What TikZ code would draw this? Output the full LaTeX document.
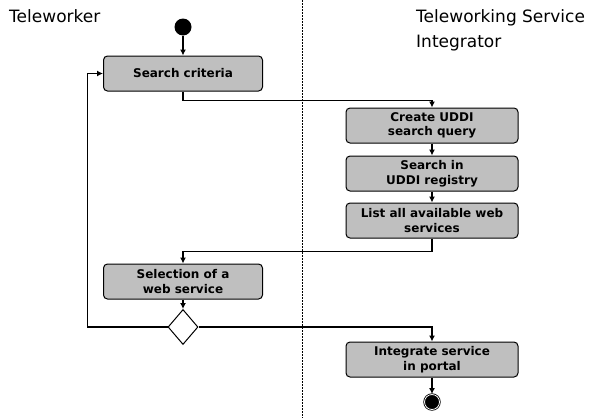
\documentclass[tikz,border=0pt]{standalone}
\usepackage{fontspec}
\setmainfont{DejaVu Sans}
\usetikzlibrary{arrows.meta, shapes.geometric}

\tikzset{
	activity/.style={draw, rounded corners=4pt, fill=black!25, line width=1pt,
		minimum width=159pt, minimum height=35pt, inner sep=1pt, align=center,
		font=\bfseries\fontsize{12}{14.5}\selectfont},
	wideact/.style={activity, minimum width=172pt},
	startdot/.style={circle, fill=black, minimum size=17pt, inner sep=0pt},
	enddot/.style={circle, fill=black, draw=black, double=white, double distance=0.8pt,
		line width=0.8pt, minimum size=15pt, inner sep=0pt},
	decision/.style={diamond, draw, fill=white, line width=1pt, minimum width=30pt,
		minimum height=35pt, inner sep=0pt},
	flow/.style={line width=1.8pt, -{Latex[length=6pt, width=6pt]}},
	lane/.style={anchor=north west, align=left, inner sep=0pt, font=\fontsize{17}{25}\selectfont}
}

\begin{document}
\begin{tikzpicture}[x=1pt, y=-1pt]
	\useasboundingbox (0,0) rectangle (601,418);
	% swimlanes
	\node[lane] (lane1) at (9,9) {Teleworker};
	\node[lane] (lane2) at (416,9) {Teleworking Service\\Integrator};
	\draw[line width=1pt, dash pattern=on 2pt off 1pt] (302,0) -- (302,418);

	% actions
	\node[startdot] (start) at (183,27) {};
	\node[activity] (crit) at (183,73.5) {Search criteria};
	\node[wideact] (query) at (432,125.5) {Create UDDI\\search query};
	\node[wideact] (search) at (432,173.5) {Search in\\UDDI registry};
	\node[wideact] (list) at (432,220.5) {List all available web\\services};
	\node[activity] (select) at (183,281.5) {Selection of a\\web service};
	\node[decision] (choice) at (183,327) {};
	\node[wideact] (integ) at (432,359.5) {Integrate service\\in portal};
	\node[enddot] (stop) at (432,402) {};

	% flows
	\draw[flow] (start) -- (crit);
	\draw[flow] (crit.south) -- ++(0,9) -| (query.north);
	\draw[flow] (query) -- (search);
	\draw[flow] (search) -- (list);
	\draw[flow] (list.south) -- ++(0,13) -| (select.north);
	\draw[flow] (select) -- (choice);
	\draw[flow] (choice.east) -| (integ.north);
	\draw[flow] (choice.west) -- ++(-80,0) |- (crit.west);
	\draw[flow] (integ.south) -- (stop.north);
\end{tikzpicture}
\end{document}
